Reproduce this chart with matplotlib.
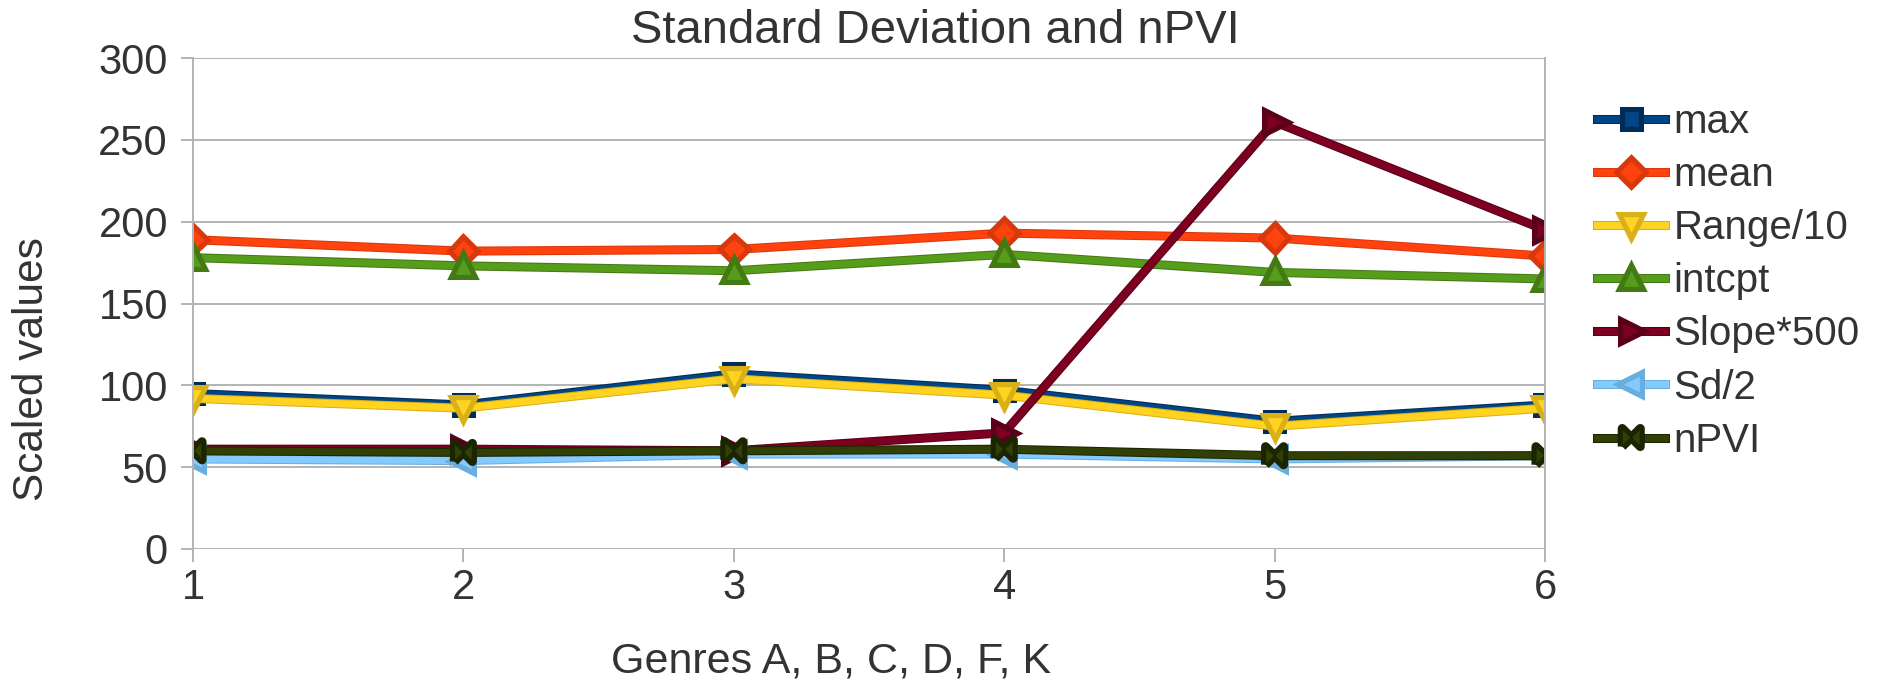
import numpy as np
import matplotlib
matplotlib.use("Agg")
import matplotlib.pyplot as plt
import matplotlib.patheffects as pe

plt.rcParams['font.family'] = ['Liberation Sans', 'DejaVu Sans']

# genres 1..6 (A, B, C, D, F, K)
genres = [1, 2, 3, 4, 5, 6]
max_vals = [95, 88, 107, 97, 78, 88]
mean_vals = [189, 182, 183, 193, 190, 179]
range10 = [92, 86, 104, 94, 75, 86]
intcpt = [178, 173, 170, 180, 169, 165]
slope500 = [61, 61, 60, 71, 261, 195]
sd2 = [55, 54, 58, 58, 55, 57]
npvi = [60, 59, 60, 61, 57, 57]

labels = ['max', 'mean', 'Range/10', 'intcpt', 'Slope*500', 'Sd/2', 'nPVI']
series = [max_vals, mean_vals, range10, intcpt, slope500, sd2, npvi]
colors = ['#004586', '#ff420e', '#ffd320', '#579d1c', '#7e0021', '#83caff', '#314004']
edges = ['#002c57', '#d8380c', '#d9b016', '#437a14', '#5a0018', '#6aaee0', '#1c2502']

bowtie = [(-1, -1), (-1, 1), (1, -1), (1, 1), (-1, -1)]
markers = ['s', 'D', 'v', '^', '>', '<', bowtie]
msizes = [11, 12, 13, 13, 13, 13, 13]

fig = plt.figure(figsize=(18.9, 6.82), dpi=100)
ax = fig.add_axes([193 / 1890, 1 - 549 / 682, (1545 - 193) / 1890, (549 - 58) / 682])

text_col = '#333333'
grid_col = '#b3b3b3'
lw = 5

handles = []
for vals, lab, c, ec, m, ms in zip(series, labels, colors, edges, markers, msizes):
    ln, = ax.plot(genres, vals, color=c, lw=lw, marker=m, markersize=ms,
                  markerfacecolor=c, markeredgecolor=ec, markeredgewidth=1,
                  label=lab, solid_joinstyle='miter',
                  path_effects=[pe.Stroke(linewidth=lw + 1.5, foreground=ec), pe.Normal()])
    handles.append(ln)

ax.set_xlim(1, 6)
ax.set_ylim(0, 300)
ax.set_yticks(np.arange(0, 301, 50))
ax.set_xticks(genres)
ax.yaxis.grid(True, color=grid_col, lw=1.4)
ax.set_axisbelow(True)
for s in ['top', 'bottom']:
    ax.spines[s].set_visible(False)
for s in ['left', 'right']:
    ax.spines[s].set_color(grid_col)
    ax.spines[s].set_linewidth(1.4)
ax.tick_params(axis='both', colors=grid_col, width=1.4, length=9,
               labelcolor=text_col, labelsize=30)
ax.tick_params(axis='y', pad=9)
ax.tick_params(axis='x', pad=5)

ax.set_xlabel('Genres A, B, C, D, F, K', fontsize=31, color=text_col)
ax.xaxis.set_label_coords((831 - 193) / 1352, -0.188)
ax.set_ylabel('Scaled values', fontsize=30.5, color=text_col)
ax.yaxis.set_label_coords(-0.104, 0.366)

fig.text(935 / 1890, 1 - 31 / 682, 'Standard Deviation and nPVI', fontsize=34,
         color=text_col, ha='center', va='center')

fig.legend(handles=handles, loc='upper left', bbox_to_anchor=(1597 / 1890, 1 - 103 / 682),
           frameon=False, fontsize=29, handlelength=1.7, handletextpad=0.2,
           labelspacing=0.375, borderpad=0, borderaxespad=0, labelcolor=text_col)

fig.savefig('out.png', dpi=100)
